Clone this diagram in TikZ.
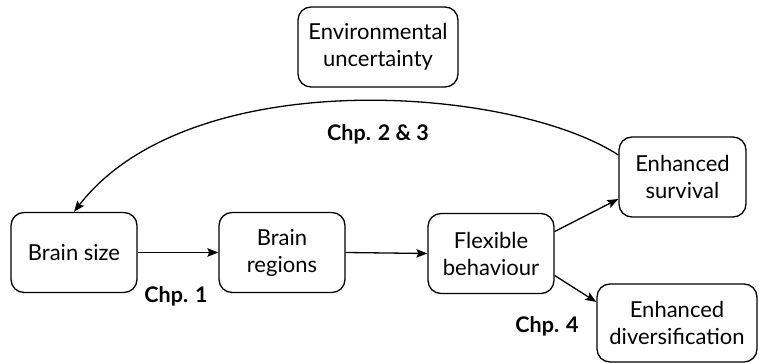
\documentclass[tikz,border=0pt]{standalone}
\usepackage{fontspec}
\setmainfont{Lato}
\usetikzlibrary{arrows.meta}
\begin{document}
\begin{tikzpicture}[x=1pt,y=-1pt,
  box/.style={draw,line width=1.3pt,rounded corners=13pt,align=center,
    font=\fontsize{22}{27}\selectfont,inner sep=0pt},
  lbl/.style={font=\fontsize{21.5}{25}\selectfont\bfseries},
  arr/.style={line width=1.3pt,-{Stealth[length=11pt,width=8.5pt,inset=2pt]}}]
\useasboundingbox (0,0) rectangle (759,363);
\node[box,minimum width=160pt,minimum height=80pt] (env) at (378,47) {Environmental\\uncertainty};
\node[box,minimum width=126pt,minimum height=80pt] (bs) at (74,252.5) {Brain size};
\node[box,minimum width=126pt,minimum height=80pt] (br) at (282,252.5) {Brain\\regions};
\node[box,minimum width=126pt,minimum height=80pt] (fb) at (491,253.5) {Flexible\\behaviour};
\node[box,minimum width=127pt,minimum height=80pt] (surv) at (682.5,177) {Enhanced\\survival};
\node[box,minimum width=160pt,minimum height=78pt] (div) at (677,323) {Enhanced\\diversification};
\node[lbl] (c1) at (176,296) {Chp. 1};
\node[lbl] (c23) at (378,134) {Chp. 2 \& 3};
\node[lbl] (c4) at (547,326) {Chp. 4};
\draw[arr] (bs.east) -- (br.west);
\draw[arr] (br.east) -- (fb.west);
\draw[arr] ([yshift=22pt]fb.east) -- ([yshift=-22pt]surv.west);
\draw[arr] ([yshift=-22pt]fb.east) -- ([yshift=21pt]div.west);
\draw[arr] ([yshift=22pt]surv.west) .. controls (512,86) and (190,62) .. (bs.north);
\end{tikzpicture}
\end{document}
